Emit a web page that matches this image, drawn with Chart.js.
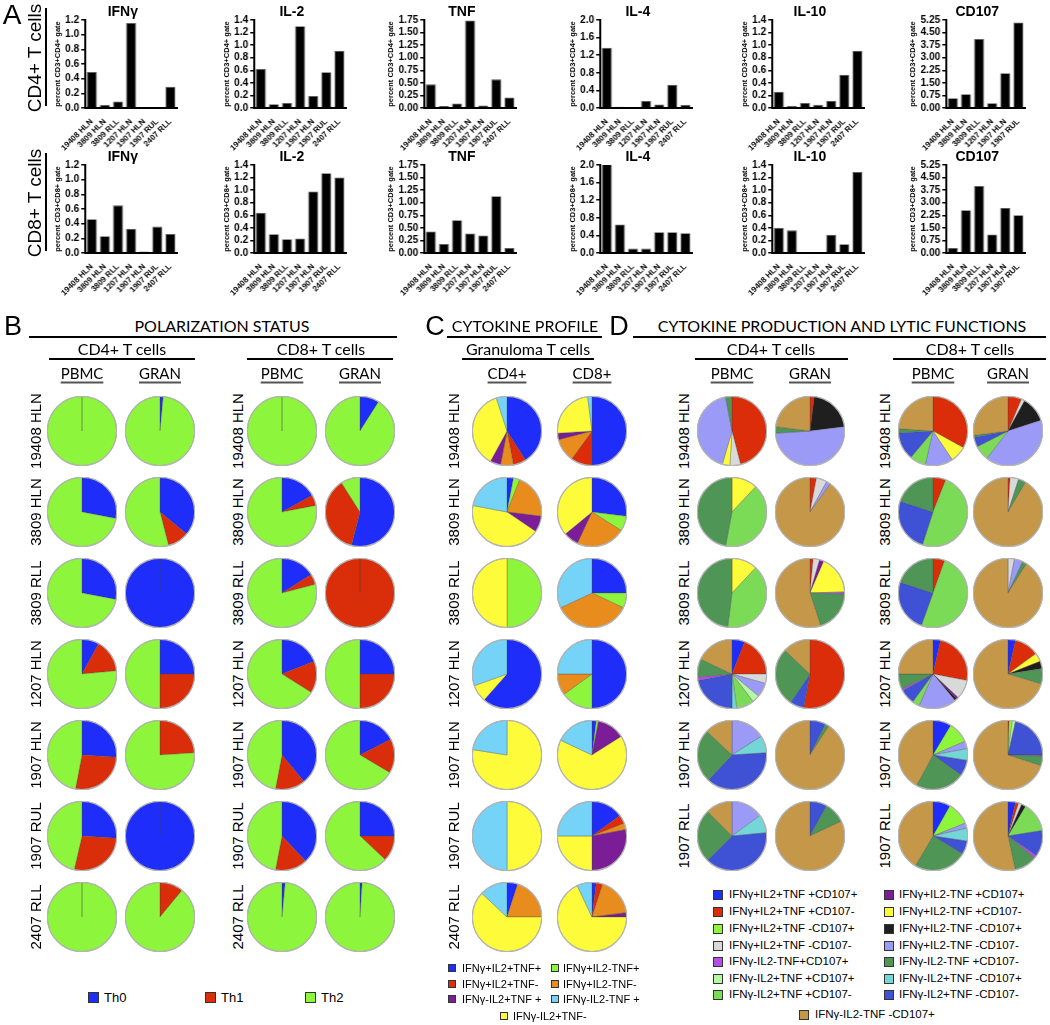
<!DOCTYPE html>
<html><head><meta charset="utf-8">
<script src="https://cdn.jsdelivr.net/npm/chart.js@4.4.1/dist/chart.umd.min.js"></script>
<style>
html,body{margin:0;padding:0;background:#fff;}
body{width:1050px;height:1025px;position:relative;overflow:hidden;font-family:Arial,"Liberation Sans",Helvetica,sans-serif;color:#000;}
canvas{position:absolute;}
.t{position:absolute;white-space:nowrap;line-height:1;}
.ln{position:absolute;background:#000;}
.sq{position:absolute;box-sizing:border-box;border:1px solid #333;}
</style></head><body>
<script>
// ---------------- DATA ----------------
const samples = ["19408 HLN","3809 HLN","3809 RLL","1207 HLN","1907 HLN","1907 RUL","2407 RLL"];
const samplesCD107 = ["19408 HLN","3809 HLN","3809 RLL","1207 HLN","1907 HLN","1907 RUL"];
const dRows = ["19408 HLN","3809 HLN","3809 RLL","1207 HLN","1907 HLN","1907 RLL"];

const barTitles = ["IFNγ","IL-2","TNF","IL-4","IL-10","CD107"];
const barMax = [1.2, 1.4, 1.75, 2.0, 1.4, 5.25];
const barStep = [0.2, 0.2, 0.25, 0.4, 0.2, 0.75];
const barDecimals = [1, 1, 2, 1, 1, 2];

const cd4IFNg  = [0.49, 0.04, 0.09, 1.16, 0, 0, 0.29];
const cd4IL2   = [0.62, 0.06, 0.08, 1.30, 0.19, 0.57, 0.91];
const cd4TNF   = [0.47, 0.04, 0.09, 1.74, 0.05, 0.57, 0.21];
const cd4IL4   = [1.37, 0.03, 0, 0.16, 0.08, 0.53, 0.07];
const cd4IL10  = [0.26, 0.03, 0.08, 0.05, 0.11, 0.53, 0.91];
const cd4CD107 = [0.58, 0.82, 4.12, 0.28, 2.08, 5.10];

const cd8IFNg  = [0.46, 0.23, 0.65, 0.33, 0.02, 0.36, 0.26];
const cd8IL2   = [0.64, 0.30, 0.22, 0.23, 0.98, 1.27, 1.20];
const cd8TNF   = [0.43, 0.18, 0.65, 0.39, 0.35, 1.13, 0.10];
const cd8IL4   = [2.05, 0.65, 0.10, 0.10, 0.47, 0.47, 0.45];
const cd8IL10  = [0.40, 0.36, 0, 0, 0.29, 0.14, 1.29];
const cd8CD107 = [0.30, 2.55, 4.00, 1.10, 2.68, 2.25];

// Panel B: [Th0, Th1, Th2] per sample
const thLabels = ["Th0","Th1","Th2"];
const thColors = ["#1e2dfa","#da2d0a","#8cf53c"];
const polCD4PBMC = [[0,0,100],[28,0,72],[28,0,72],[8,15.5,76.5],[26,27,47],[26,27.6,46.4],[0,0,100]];
const polCD4GRAN = [[1.5,0,98.5],[36,10,54],[100,0,0],[25,25,50],[0,24,76],[100,0,0],[0,11,89]];
const polCD8PBMC = [[0,0,100],[17,5,78],[16,5,79],[19,15,66],[39,14,47],[38,15,47],[1.5,0,98.5]];
const polCD8GRAN = [[9,0,91],[54,37,9],[0,100,0],[25,25,50],[17.5,16,66.5],[25,12,63],[1,0,99]];

// Panel C: cytokine profile categories (pie order)
const cLabels = ["IFNγ+IL2+TNF+","IFNγ+IL2+TNF-","IFNγ+IL2-TNF+","IFNγ+IL2-TNF-","IFNγ-IL2+TNF +","IFNγ-IL2+TNF-","IFNγ-IL2-TNF +"];
const cColors = ["#1e2dfa","#dc2d0a","#8cf53c","#e88c1e","#7a1d96","#fdfb3a","#74d3f7"];
const cytoCD4 = [[41,6,0,6,5,37,5],[3,0,3,21,7.5,43.5,22],[0,0,50,0,0,50,0],[61.5,0,0,0,0,8,30.5],[0,0,0,0,0,77.5,22.5],[0,0,0,0,0,50,50],[5,0,0,20,0,62,13]];
const cytoCD8 = [[50,10,0,11,3,24,2],[27,0,7,23,7,36,0],[25,0,7,36,0,0,32],[50,0,15,10,0,0,25],[2,0,1,0,13,66,18],[15,4,0,3,28,25,25],[2,3,0,18,2,68,7]];

// Panel D: cytokine production and lytic function categories (pie order)
const dLabels = ["IFNγ+IL2+TNF +CD107+","IFNγ+IL2+TNF +CD107-","IFNγ+IL2+TNF -CD107+","IFNγ+IL2+TNF -CD107-",
  "IFNγ+IL2-TNF +CD107+","IFNγ+IL2-TNF +CD107-","IFNγ+IL2-TNF -CD107+","IFNγ+IL2-TNF -CD107-",
  "IFNγ-IL2+TNF +CD107+","IFNγ-IL2+TNF +CD107-","IFNγ-IL2+TNF -CD107+","IFNγ-IL2+TNF -CD107-",
  "IFNγ-IL2-TNF+CD107+","IFNγ-IL2-TNF +CD107-","IFNγ-IL2-TNF -CD107+"];
const dColors = ["#1e2dfa","#dc2d0a","#8cf53c","#d9d9d9","#7a1d96","#fdfb3a","#1f1f1f","#9b9bf7",
  "#b5f7a5","#7bdb57","#74d6d6","#3f51d4","#b44ee6","#4e9556","#c49848"];
const lytCD4PBMC = [
  [0,46,0,5,0,3.5,0,42.5,0,0,0,0,0,3,0],
  [0,0,0,0,0,12,0,0,0,41,0,0,0,47,0],
  [0,0,0,0,0,12,0,0,0,40,0,0,0,48,0],
  [6,19,0,4.4,0,0,0,6.7,3.5,8.2,2.2,22,1.6,8.4,18],
  [0,0,0,0,0,0,0,16,0,0,8,38,0,25,13],
  [0,0,0,0,0,0,0,15,0,0,8.5,39,0,25,12.5]];
const lytCD4GRAN = [
  [0,2,0,0,0,0,21,51,0,0,0,0,0,3,23],
  [0,3,0,5,0,0,0,2,0,0,0,0,0,0,90],
  [0,1.5,0,3,2,18,0,0,0,0,0,0,1,19.5,55],
  [0,53,0,0,0,0,0,0,0,0,0,6.5,0,27.5,13],
  [0,0,0,0,0,0,0,0,0,0,0,7.4,0,1.8,90.8],
  [0,0,0,0,0,0,0,0,0,0,0,8,0,10,82]];
const lytCD8PBMC = [
  [0,33,0,0,0,7.6,0,13,0,7.5,0,13,0,2,23.9],
  [0,6,0,0,0,0,0,0,0,49,0,25,0,20,0],
  [0,5.5,0,0,0,0,0,0,0,50,0,24.5,0,20,0],
  [3.5,24.5,0,9,1,0,1,17.6,0,3.4,0,7,1,7,25],
  [8.6,0,10,0,0,0,0,3.5,0,0,5.4,7.4,0,23,42.1],
  [8.2,0,10.8,0,0,0,0,2.4,0,0,6,6.3,0,24.8,41.5]];
const lytCD8GRAN = [
  [0,6.4,0,1.6,0,0,12,40.5,0,7,0,4.5,0,1,27],
  [0,1,0,4,0,0,0,0,0,0,0,0,0,3.5,91.5],
  [0,0,0,3,0,0,0,4,0,0,0,0,0,2,91],
  [3.5,11.5,0,0,0,4,3.5,0,0,0,0,0,0,7.2,70.3],
  [0,0.5,1.5,0,0,0,0,0,1.5,0,0,21.5,0.5,4.5,70],
  [3.5,1.5,0,1.5,0,0,2,0,0,14,0,12.1,1.4,10.6,53.4]];
// legend layout for panel D (indices into dLabels), two columns then a centred last entry
const dLegendLeft  = [0,1,2,3,12,8,9];
const dLegendRight = [4,5,6,7,13,10,11];
const dLegendLast  = 14;

// ---------------- HELPERS ----------------
Chart.defaults.animation = false;
Chart.defaults.responsive = false;
Chart.defaults.events = [];
Chart.defaults.plugins.legend.display = false;
Chart.defaults.plugins.tooltip.enabled = false;
Chart.defaults.font.family = 'Arial, "Liberation Sans", sans-serif';
Chart.defaults.color = '#000';

const HEAD = 'Lato, "Open Sans", Arial, sans-serif';

function addCanvas(x, y, w, h) {
  const c = document.createElement('canvas');
  c.width = w; c.height = h;
  c.style.left = x + 'px'; c.style.top = y + 'px';
  c.style.width = w + 'px'; c.style.height = h + 'px';
  document.body.appendChild(c);
  return c;
}
function text(str, x, y, size, o = {}) {
  const d = document.createElement('div');
  d.className = 't';
  d.textContent = str;
  d.style.fontSize = size + 'px';
  if (o.family) d.style.fontFamily = o.family;
  if (o.weight) d.style.fontWeight = o.weight;
  d.style.left = x + 'px'; d.style.top = y + 'px';
  const tx = o.anchor === 'left' ? '0' : '-50%';
  d.style.transform = `translate(${tx},-50%)` + (o.rotate ? ` rotate(${o.rotate}deg)` : '');
  if (o.underline) {
    d.style.textDecoration = 'underline';
    d.style.textDecorationColor = '#555';
    d.style.textDecorationThickness = '1.5px';
    d.style.textUnderlineOffset = '3px';
  }
  document.body.appendChild(d);
  return d;
}
function hline(x1, x2, y, w = 1.5) {
  const d = document.createElement('div'); d.className = 'ln';
  d.style.left = x1 + 'px'; d.style.top = (y - w / 2) + 'px';
  d.style.width = (x2 - x1) + 'px'; d.style.height = w + 'px';
  document.body.appendChild(d);
}
function vline(x, y1, y2, w = 1.5) {
  const d = document.createElement('div'); d.className = 'ln';
  d.style.left = (x - w / 2) + 'px'; d.style.top = y1 + 'px';
  d.style.width = w + 'px'; d.style.height = (y2 - y1) + 'px';
  document.body.appendChild(d);
}
function square(x, y, s, color) {
  const d = document.createElement('div'); d.className = 'sq';
  d.style.left = x + 'px'; d.style.top = (y - s / 2) + 'px';
  d.style.width = s + 'px'; d.style.height = s + 'px';
  d.style.background = color;
  document.body.appendChild(d);
}

// ---------------- PANEL A: bar charts ----------------
const PITCH = 13.1;
function barChart(axisX, baseY, labels, values, k, yTitle) {
  const dec = barDecimals[k];
  const W = dec === 2 ? 38 : 32;
  const plotH = 88, padTop = 14, xH = 44, padR = 12;
  const plotW = labels.length * PITCH;
  const c = addCanvas(axisX - W, baseY - plotH - padTop, W + plotW + padR, padTop + plotH + xH);
  new Chart(c, {
    type: 'bar',
    data: { labels: labels, datasets: [{ data: values, backgroundColor: '#000', borderColor: '#555', borderWidth: 0.8,
      barPercentage: 0.77, categoryPercentage: 1 }] },
    options: {
      layout: { padding: { top: padTop, right: padR, bottom: 0, left: 0 } },
      scales: {
        x: { grid: { display: false }, border: { display: true, color: '#000', width: 2 },
             ticks: { autoSkip: false, minRotation: 45, maxRotation: 45, padding: 1,
                      font: { size: 8, weight: 'bold' }, color: '#000' },
             afterFit: s => { s.height = xH; } },
        y: { min: 0, max: barMax[k],
             ticks: { autoSkip: false, stepSize: barStep[k], padding: 2, font: { size: 10, weight: 'bold' }, color: '#000',
                      callback: v => Number(v).toFixed(dec) },
             grid: { display: true, drawOnChartArea: false, drawTicks: true, tickLength: 4, color: '#000', lineWidth: 1.5 },
             border: { display: true, color: '#000', width: 2 },
             title: { display: true, text: yTitle, font: { size: 7.5, weight: 'bold' }, color: '#000', padding: { top: 0, bottom: 0 } },
             afterFit: s => { s.width = W; } }
      }
    }
  });
  text(barTitles[k], axisX + plotW / 2 - 8, baseY - plotH - 9, 14, { weight: 'bold' });
}
const axisXs = [85, 254, 424, 600, 772, 946];
const cd4Sets = [cd4IFNg, cd4IL2, cd4TNF, cd4IL4, cd4IL10, cd4CD107];
const cd8Sets = [cd8IFNg, cd8IL2, cd8TNF, cd8IL4, cd8IL10, cd8CD107];
for (let k = 0; k < 6; k++) {
  const lbl = k === 5 ? samplesCD107 : samples;
  barChart(axisXs[k], 108, lbl, cd4Sets[k], k, 'percent CD3+CD4+ gate');
  barChart(axisXs[k], 253, lbl, cd8Sets[k], k, 'percent CD3+CD8+ gate');
}
text('A', 12, 15, 28);
text('CD4+ T cells', 34, 58, 19, { rotate: -90 });
vline(46, 8, 106, 1.5);
text('CD8+ T cells', 34, 203, 19, { rotate: -90 });
vline(46, 153, 251, 1.5);

// ---------------- PIES ----------------
const R = 34;
const ringPlugin = { id: 'ring', afterDatasetsDraw(chart) {
  const arc = chart.getDatasetMeta(0).data[0]; if (!arc) return;
  const p = arc.getProps(['x', 'y', 'outerRadius'], true);
  const ctx = chart.ctx; ctx.save(); ctx.beginPath();
  ctx.arc(p.x, p.y, p.outerRadius, 0, Math.PI * 2);
  ctx.strokeStyle = '#b4b4b4'; ctx.lineWidth = 1.2; ctx.stroke(); ctx.restore();
} };
function pie(cx, cy, values, colors, labels) {
  const c = addCanvas(cx - R - 1, cy - R - 1, 2 * R + 2, 2 * R + 2);
  new Chart(c, {
    type: 'pie',
    data: { labels: labels, datasets: [{ data: values, backgroundColor: colors, borderColor: 'rgba(70,70,70,0.5)', borderWidth: 0.6 }] },
    options: { layout: { padding: 0 } },
    plugins: [ringPlugin]
  });
}
const rowY = [431, 512, 593, 674, 755, 836, 917];

// headers
const ROWF = 15;
// B
text('B', 13, 326, 27);
text('POLARIZATION STATUS', 222, 326, 16, { family: HEAD });
hline(29, 397, 337);
text('CD4+ T cells', 122, 349, 16, { family: HEAD });
hline(49, 195, 359);
text('CD8+ T cells', 321, 349, 16, { family: HEAD });
hline(247, 393, 359);
[[82,'PBMC'],[160,'GRAN'],[282,'PBMC'],[360,'GRAN']].forEach(([x,s]) => text(s, x, 373, 15, { family: HEAD, underline: true }));
// C
text('C', 435, 326, 27);
text('CYTOKINE PROFILE', 525, 326, 16, { family: HEAD });
hline(447, 602, 337);
text('Granuloma T cells', 528, 349, 16, { family: HEAD });
hline(462, 594, 359);
text('CD4+', 507, 373, 15, { family: HEAD, underline: true });
text('CD8+', 592, 373, 15, { family: HEAD, underline: true });
// D
text('D', 619, 326, 27);
text('CYTOKINE PRODUCTION AND LYTIC FUNCTIONS', 842, 326, 16, { family: HEAD });
hline(633, 1046, 337);
text('CD4+ T cells', 771, 349, 16, { family: HEAD });
hline(695, 848, 359);
text('CD8+ T cells', 970, 349, 16, { family: HEAD });
hline(893, 1046, 359);
[[732,'PBMC'],[810,'GRAN'],[933,'PBMC'],[1008,'GRAN']].forEach(([x,s]) => text(s, x, 373, 15, { family: HEAD, underline: true }));

// B pies
samples.forEach((s, i) => {
  text(s, 35, rowY[i], ROWF, { rotate: -90 });
  text(s, 237, rowY[i], ROWF, { rotate: -90 });
  pie(82, rowY[i], polCD4PBMC[i], thColors, thLabels);
  pie(160, rowY[i], polCD4GRAN[i], thColors, thLabels);
  pie(282, rowY[i], polCD8PBMC[i], thColors, thLabels);
  pie(360, rowY[i], polCD8GRAN[i], thColors, thLabels);
});
// C pies
samples.forEach((s, i) => {
  text(s, 453, rowY[i], ROWF, { rotate: -90 });
  pie(507, rowY[i], cytoCD4[i], cColors, cLabels);
  pie(592, rowY[i], cytoCD8[i], cColors, cLabels);
});
// D pies
dRows.forEach((s, i) => {
  text(s, 683, rowY[i], ROWF, { rotate: -90 });
  text(s, 884, rowY[i], ROWF, { rotate: -90 });
  pie(732, rowY[i], lytCD4PBMC[i], dColors, dLabels);
  pie(810, rowY[i], lytCD4GRAN[i], dColors, dLabels);
  pie(933, rowY[i], lytCD8PBMC[i], dColors, dLabels);
  pie(1008, rowY[i], lytCD8GRAN[i], dColors, dLabels);
});

// ---------------- LEGENDS ----------------
// B
[[88, 0], [205, 1], [305, 2]].forEach(([x, i]) => {
  square(x, 997, 11, thColors[i]);
  text(thLabels[i], x + 16, 997, 13, { anchor: 'left' });
});
// C
const cLegY = [968, 983.5, 999];
const cLeft = [0, 1, 4], cRight = [2, 3, 6];
cLegY.forEach((y, r) => {
  square(448, y, 8, cColors[cLeft[r]]); text(cLabels[cLeft[r]], 462, y, 11, { anchor: 'left' });
  square(551, y, 8, cColors[cRight[r]]); text(cLabels[cRight[r]], 563, y, 11, { anchor: 'left' });
});
square(500, 1016, 8, cColors[5]); text(cLabels[5], 513, 1016, 11, { anchor: 'left' });
// D
const dLegY = [895, 912, 929, 946, 962, 979, 995];
dLegY.forEach((y, r) => {
  square(713, y, 10, dColors[dLegendLeft[r]]); text(dLabels[dLegendLeft[r]], 729, y, 11.5, { anchor: 'left' });
  square(884, y, 10, dColors[dLegendRight[r]]); text(dLabels[dLegendRight[r]], 899, y, 11.5, { anchor: 'left' });
});
square(799, 1015, 10, dColors[dLegendLast]); text(dLabels[dLegendLast], 815, 1015, 11.5, { anchor: 'left' });
</script>
</body></html>
